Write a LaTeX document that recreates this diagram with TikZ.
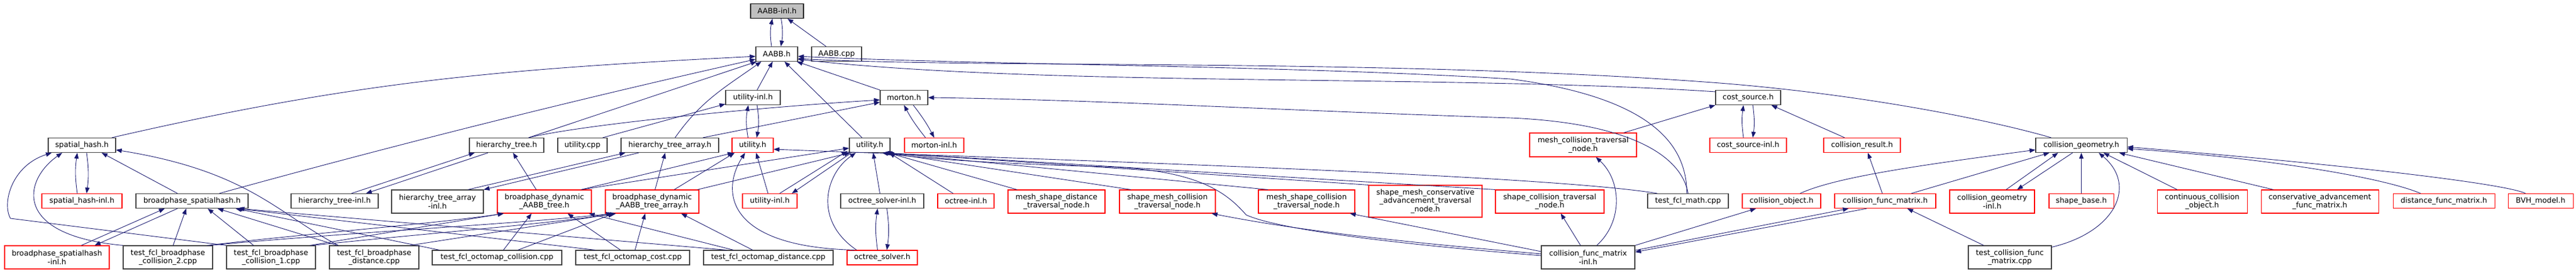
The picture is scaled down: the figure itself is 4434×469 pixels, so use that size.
\documentclass[tikz,border=0pt]{standalone}
\usepackage{fontspec}
\setmainfont{DejaVu Sans}
\usetikzlibrary{arrows.meta}
\definecolor{edgeblue}{HTML}{191970}
\definecolor{boxgray}{HTML}{404040}
\tikzset{
  hdr/.style={draw=boxgray, line width=1.1pt, inner sep=0pt, minimum height=25pt,
    align=center, font=\fontsize{12.8}{14.3}\selectfont},
  hdrred/.style={hdr, draw=red},
  hdrroot/.style={hdr, draw=black, fill=black!25},
  inc/.style={draw=edgeblue, line width=0.9pt, -{Triangle[length=10pt,width=7.5pt]}},
}
\begin{document}
\begin{tikzpicture}[x=1pt,y=1pt]
  \useasboundingbox (0,0) rectangle (4434,-469);
  % top rows
  \node[hdrroot, minimum width=91] (aabbinl) at (1337.5,-19) {AABB-inl.h};
  \node[hdr, minimum width=72] (aabb) at (1337,-93) {AABB.h};
  \node[hdr, minimum width=86] (aabbcpp) at (1440,-93) {AABB.cpp};
  \node[hdr, minimum width=94] (utilinlA) at (1296,-168) {utility-inl.h};
  \node[hdr, minimum width=82] (morton) at (1556,-168) {morton.h};
  \node[hdr, minimum width=112] (cost) at (3009,-168) {cost\_source.h};
  % middle row
  \node[hdr, minimum width=116] (spatial) at (141,-250) {spatial\_hash.h};
  \node[hdr, minimum width=128] (htree) at (872,-250) {hierarchy\_tree.h};
  \node[hdr, minimum width=85] (utilcpp) at (1002.5,-250) {utility.cpp};
  \node[hdr, minimum width=168] (htarr) at (1153,-250) {hierarchy\_tree\_array.h};
  \node[hdrred, minimum width=71] (utilA) at (1295.5,-250) {utility.h};
  \node[hdr, minimum width=70] (utilB) at (1497,-250) {utility.h};
  \node[hdrred, minimum width=102] (mortoninl) at (1608,-250) {morton-inl.h};
  \node[hdrred, minimum width=184, minimum height=41] (mc) at (2725,-249.5) {mesh\_collision\_traversal\\\_node.h};
  \node[hdrred, minimum width=132] (costinl) at (3009,-250) {cost\_source-inl.h};
  \node[hdrred, minimum width=132] (cresult) at (3205,-250) {collision\_result.h};
  \node[hdr, minimum width=157] (cgeom) at (3582.5,-250) {collision\_geometry.h};
  % lower row
  \node[hdrred, minimum width=138] (spatialinl) at (141,-346) {spatial\_hash-inl.h};
  \node[hdr, minimum width=193] (bpspatial) at (330.5,-346) {broadphase\_spatialhash.h};
  \node[hdr, minimum width=150] (htreeinl) at (576,-346) {hierarchy\_tree-inl.h};
  \node[hdr, minimum width=158, minimum height=40] (htarrinl) at (753,-347) {hierarchy\_tree\_array\\-inl.h};
  \node[hdrred, minimum width=162, minimum height=40] (bpdyn) at (937,-347) {broadphase\_dynamic\\\_AABB\_tree.h};
  \node[hdrred, minimum width=161, minimum height=40] (bpdynarr) at (1122.5,-347) {broadphase\_dynamic\\\_AABB\_tree\_array.h};
  \node[hdrred, minimum width=94] (utilinlB) at (1325,-346) {utility-inl.h};
  \node[hdr, minimum width=143] (osinl) at (1518.5,-346) {octree\_solver-inl.h};
  \node[hdrred, minimum width=97] (octinl) at (1662.5,-346) {octree-inl.h};
  \node[hdrred, minimum width=167, minimum height=40] (msd) at (1818.5,-347) {mesh\_shape\_distance\\\_traversal\_node.h};
  \node[hdrred, minimum width=165, minimum height=40] (smc) at (2009.5,-347) {shape\_mesh\_collision\\\_traversal\_node.h};
  \node[hdrred, minimum width=166, minimum height=40] (msc) at (2249,-347) {mesh\_shape\_collision\\\_traversal\_node.h};
  \node[hdrred, minimum width=195, minimum height=55] (smca) at (2453.5,-346.5) {shape\_mesh\_conservative\\\_advancement\_traversal\\\_node.h};
  \node[hdrred, minimum width=187, minimum height=40] (sc) at (2667.5,-347) {shape\_collision\_traversal\\\_node.h};
  \node[hdr, minimum width=139] (tmath) at (2905.5,-346) {test\_fcl\_math.cpp};
  \node[hdrred, minimum width=135] (cobj) at (3066.5,-346) {collision\_object.h};
  \node[hdrred, minimum width=174] (cfm) at (3245,-346) {collision\_func\_matrix.h};
  \node[hdrred, minimum width=146, minimum height=40] (cgeominl) at (3429,-347) {collision\_geometry\\-inl.h};
  \node[hdrred, minimum width=111] (shapebase) at (3582.5,-346) {shape\_base.h};
  \node[hdrred, minimum width=155, minimum height=40] (ccobj) at (3790.5,-347) {continuous\_collision\\\_object.h};
  \node[hdrred, minimum width=202, minimum height=40] (cafm) at (3993,-347) {conservative\_advancement\\\_func\_matrix.h};
  \node[hdrred, minimum width=175] (dfm) at (4206.5,-346) {distance\_func\_matrix.h};
  \node[hdrred, minimum width=112] (bvh) at (4373,-346) {BVH\_model.h};
  % bottom row
  \node[hdrred, minimum width=180, minimum height=40] (bpspatialinl) at (98,-443) {broadphase\_spatialhash\\-inl.h};
  \node[hdr, minimum width=154, minimum height=40] (tbc2) at (289,-443) {test\_fcl\_broadphase\\\_collision\_2.cpp};
  \node[hdr, minimum width=153, minimum height=40] (tbc1) at (466.5,-443) {test\_fcl\_broadphase\\\_collision\_1.cpp};
  \node[hdr, minimum width=154, minimum height=40] (tbd) at (644,-443) {test\_fcl\_broadphase\\\_distance.cpp};
  \node[hdr, minimum width=223] (toc) at (855.5,-443.5) {test\_fcl\_octomap\_collision.cpp};
  \node[hdr, minimum width=196] (tocost) at (1089,-443.5) {test\_fcl\_octomap\_cost.cpp};
  \node[hdr, minimum width=223] (tod) at (1322.5,-443.5) {test\_fcl\_octomap\_distance.cpp};
  \node[hdrred, minimum width=121] (os) at (1518.5,-443.5) {octree\_solver.h};
  \node[hdr, minimum width=161, minimum height=40] (cfminl) at (2733.5,-443) {collision\_func\_matrix\\-inl.h};
  \node[hdr, minimum width=143, minimum height=40] (tcfm) at (3459.5,-443) {test\_collision\_func\\\_matrix.cpp};
  \begin{scope}[inc]
    % AABB-inl.h
    \draw ([xshift=-9pt]aabb.north) to[bend left=10] ([xshift=-8pt]aabbinl.south);
    \draw ([xshift=7pt]aabbinl.south) to[bend left=10] ([xshift=7pt]aabb.north);
    \draw (aabbcpp) to (aabbinl);
    % AABB.h
    \draw ([xshift=-7pt]spatial.north east) .. controls (618,-139) and (865,-119) .. ([yshift=-4pt]aabb.west);
    \draw ([xshift=-50pt]bpspatial.north east) .. controls (685,-248) and (993,-171) .. ([yshift=4pt]aabb.south west);
    \draw ([xshift=38pt]htree.north) to ([xshift=2pt]aabb.south west);
    \draw ([xshift=9pt]htarr.north) .. controls (1207,-173) and (1247,-151) .. ([xshift=10pt]aabb.south west);
    \draw (utilinlA) to (aabb);
    \draw (utilB) to (aabb);
    \draw (morton.north west) to ([xshift=-2pt]aabb.south east);
    \draw ([yshift=-3pt]cost.north west) .. controls (2500,-128) and (1800,-150) .. ([yshift=4pt]aabb.south east);
    \draw ([xshift=-52pt]cgeom.north) .. controls (3420,-205) and (3200,-162) .. (2960,-143)
      .. controls (2400,-100) and (1700,-118) .. ([yshift=-8pt]aabb.east);
    \draw ([xshift=-2pt]tmath.north) .. controls (2903,-260) and (2860,-170) .. (2600,-136)
      .. controls (2200,-112) and (1700,-112) .. ([yshift=-4pt]aabb.east);
    % utility-inl.h and utility.h
    \draw ([xshift=-8pt]utilA.north) to[bend left=10] ([xshift=-8pt]utilinlA.south);
    \draw ([xshift=7pt]utilinlA.south) to[bend left=10] ([xshift=7pt]utilA.north);
    \draw ([xshift=35pt]utilcpp.north) to ([yshift=2pt]utilinlA.south west);
    % morton.h
    \draw ([xshift=38pt]htree.north) .. controls (1000,-215) and (1300,-185) .. ([yshift=-4pt]morton.west);
    \draw ([xshift=57pt]htarr.north) to ([yshift=-8pt]morton.west);
    \draw ([xshift=-15pt]mortoninl.north) to[bend left=5] (morton.south);
    \draw ([xshift=16pt]morton.south) to[bend left=5] (mortoninl.north);
    \draw (tmath.north) .. controls (2895,-270) and (2810,-212) .. (2600,-203)
      .. controls (2200,-190) and (1900,-172) .. (morton.east);
    % spatial_hash.h
    \draw ([xshift=-8pt]spatialinl.north) to[bend left=8] ([xshift=-8pt]spatial.south);
    \draw ([xshift=8pt]spatial.south) to[bend left=8] ([xshift=8pt]spatialinl.north);
    \draw ([xshift=-25pt]bpspatial.north) to ([xshift=34pt]spatial.south);
    \draw ([xshift=16pt]tbd.north west) .. controls (480,-370) and (430,-295) .. ([yshift=5pt]spatial.south east);
    \draw (tbc2.north west) .. controls (20,-405) and (40,-310) .. ([xshift=-34pt]spatial.south);
    \draw (tbc1.north west) -- (18,-376) .. controls (3,-350) and (20,-285) .. ([xshift=-52pt]spatial.south);
    % broadphase_spatialhash.h
    \draw ([xshift=42pt]bpspatialinl.north) to ([xshift=-47pt]bpspatial.south);
    \draw ([xshift=-25pt]bpspatial.south) to ([xshift=65pt]bpspatialinl.north);
    \draw ([xshift=9pt]tbc2.north) to ([xshift=-10pt]bpspatial.south);
    \draw ([xshift=-30pt]tbc1.north) to ([xshift=27pt]bpspatial.south);
    \draw ([xshift=14pt]tbd.north west) to ([xshift=-53pt]bpspatial.south east);
    \draw ([xshift=13pt]toc.north west) to ([xshift=-22pt]bpspatial.south east);
    \draw ([xshift=34pt]tocost.north west) to ([xshift=-20pt]bpspatial.south east);
    \draw ([xshift=40pt]tod.north west) to ([xshift=-17pt]bpspatial.south east);
    % hierarchy trees
    \draw ([xshift=29pt]htreeinl.north) to ([xshift=-55pt]htree.south);
    \draw ([xshift=-32pt]htree.south) to ([xshift=54pt]htreeinl.north);
    \draw ([xshift=-27pt]htarrinl.north east) to ([xshift=8pt]htarr.south west);
    \draw ([xshift=31pt]htarr.south west) to (htarrinl.north east);
    \draw ([xshift=-14pt]bpdyn.north) to ([xshift=11pt]htree.south);
    \draw ([xshift=5pt]bpdynarr.north) to ([xshift=-8pt]htarr.south);
    % dynamic AABB trees
    \draw ([xshift=-10pt]tbc2.north east) .. controls (550,-400) and (750,-385) .. ([xshift=-70pt]bpdyn.south);
    \draw ([xshift=-5pt]tbc2.north east) .. controls (600,-400) and (900,-385) .. ([xshift=-69pt]bpdynarr.south);
    \draw ([xshift=-10pt]tbc1.north east) to ([xshift=-70pt]bpdyn.south);
    \draw ([xshift=-5pt]tbc1.north east) .. controls (700,-405) and (950,-385) .. ([xshift=-65pt]bpdynarr.south);
    \draw ([xshift=-16pt]tbd.north east) to ([xshift=-62pt]bpdynarr.south);
    \draw ([xshift=11pt]toc.north) to ([xshift=-22pt]bpdyn.south);
    \draw ([xshift=36pt]toc.north) to ([xshift=-66pt]bpdynarr.south);
    \draw ([xshift=-21pt]tocost.north) to ([xshift=40pt]bpdyn.south);
    \draw ([xshift=4pt]tocost.north) to ([xshift=-12pt]bpdynarr.south);
    \draw ([xshift=52pt]tod.north west) to ([xshift=-5pt]bpdyn.south east);
    \draw ([xshift=-27pt]tod.north) to ([xshift=50pt]bpdynarr.south);
    % utility.h (red)
    \draw ([xshift=-18pt]bpdyn.north east) to ([xshift=3pt]utilA.south west);
    \draw ([xshift=38pt]bpdynarr.north) to ([xshift=5pt]utilA.south west);
    \draw ([xshift=-3pt]utilinlB.north) to ([xshift=6pt]utilA.south);
    \draw ([xshift=-48pt]os.north) .. controls (1250,-425) and (1240,-330) .. ([xshift=-13pt]utilA.south);
    \draw ([xshift=-53pt]tmath.north) .. controls (2650,-300) and (1800,-275) .. ([yshift=-7pt]utilA.east);
    % utility.h (black)
    \draw ([xshift=-18pt]bpdyn.north east) to ([yshift=-5pt]utilB.west);
    \draw ([xshift=-3pt]bpdynarr.north east) to ([xshift=2pt]utilB.south west);
    \draw ([xshift=17pt]utilinlB.north) to ([xshift=-3pt,yshift=3pt]utilB.south west);
    \draw ([xshift=4pt]utilB.south west) to ([xshift=38pt]utilinlB.north);
    \draw ([xshift=-44pt]os.north) .. controls (1400,-380) and (1420,-300) .. ([xshift=-24pt]utilB.south);
    \draw ([xshift=-4pt]osinl.north) to ([xshift=6pt]utilB.south);
    \draw ([xshift=-8pt]os.north) to[bend left=8] ([xshift=-8pt]osinl.south);
    \draw ([xshift=8pt]osinl.south) to[bend left=8] ([xshift=8pt]os.north);
    \draw ([xshift=-22pt]octinl.north) to ([xshift=-2pt]utilB.south east);
    \draw ([xshift=-68pt]msd.north) to ([xshift=-4pt]utilB.south east);
    \draw ([xshift=20pt]smc.north west) to ([xshift=-6pt]utilB.south east);
    \draw ([xshift=17pt]msc.north west) to ([xshift=-8pt]utilB.south east);
    \draw (smca.north west) to ([xshift=-10pt]utilB.south east);
    \draw (sc.north west) to ([xshift=-12pt]utilB.south east);
    \draw ([yshift=3pt]cfminl.west) .. controls (2400,-420) and (2200,-395) .. (2145,-370)
      .. controls (2110,-330) and (2060,-292) .. (1900,-287)
      .. controls (1750,-283) and (1600,-275) .. ([xshift=-14pt]utilB.south east);
    % traversal nodes
    \draw ([yshift=10pt]cfminl.west) to ([xshift=-9pt]msc.south east);
    \draw ([yshift=6pt]cfminl.west) .. controls (2450,-420) and (2250,-400) .. ([xshift=-7pt]smc.south east);
    \draw ([xshift=-13pt]cfminl.north) to ([xshift=19pt]sc.south);
    \draw ([xshift=15pt]cfminl.north) .. controls (2795,-380) and (2790,-310) .. ([xshift=22pt]mc.south);
    % collision_func_matrix.h
    \draw (cfminl.north east) to ([xshift=-44pt]cobj.south);
    \draw ([yshift=12pt]cfminl.east) to ([xshift=-63pt]cfm.south);
    \draw ([xshift=-32pt]cfm.south) to ([yshift=9pt]cfminl.east);
    \draw ([xshift=-45pt]tcfm.north) to ([xshift=38pt]cfm.south);
    % cost_source.h
    \draw ([xshift=-8pt]costinl.north) to[bend left=8] ([xshift=-8pt]cost.south);
    \draw ([xshift=8pt]cost.south) to[bend left=8] ([xshift=8pt]costinl.north);
    \draw ([xshift=70pt]mc.north) to (cost.south west);
    \draw ([xshift=-30pt]cresult.north) to ([xshift=40pt]cost.south);
    \draw ([xshift=-5pt]cfm.north) to ([xshift=10pt]cresult.south);
    % collision_geometry.h
    \draw ([xshift=45pt]cfm.north) to ([xshift=-55pt]cgeom.south);
    \draw ([xshift=32pt]cobj.north) .. controls (3160,-305) and (3300,-285) .. ([yshift=-8pt]cgeom.west);
    \draw ([yshift=-3pt]tcfm.north east) .. controls (3640,-400) and (3680,-320) .. ([xshift=30pt]cgeom.south);
    \draw ([xshift=24pt]cgeominl.north) to ([xshift=-40pt]cgeom.south);
    \draw ([xshift=-15pt]cgeom.south) to ([xshift=43pt]cgeominl.north);
    \draw (shapebase) to (cgeom);
    \draw ([xshift=-43pt]ccobj.north) to ([xshift=38pt]cgeom.south);
    \draw ([xshift=-80pt]cafm.north) to ([xshift=-14pt]cgeom.south east);
    \draw ([xshift=-40pt]dfm.north) .. controls (4100,-305) and (3900,-272) .. ([yshift=-6pt]cgeom.east);
    \draw ([xshift=-26pt]bvh.north) .. controls (4310,-315) and (4000,-280) .. ([yshift=-3pt]cgeom.east);
  \end{scope}
\end{tikzpicture}
\end{document}
